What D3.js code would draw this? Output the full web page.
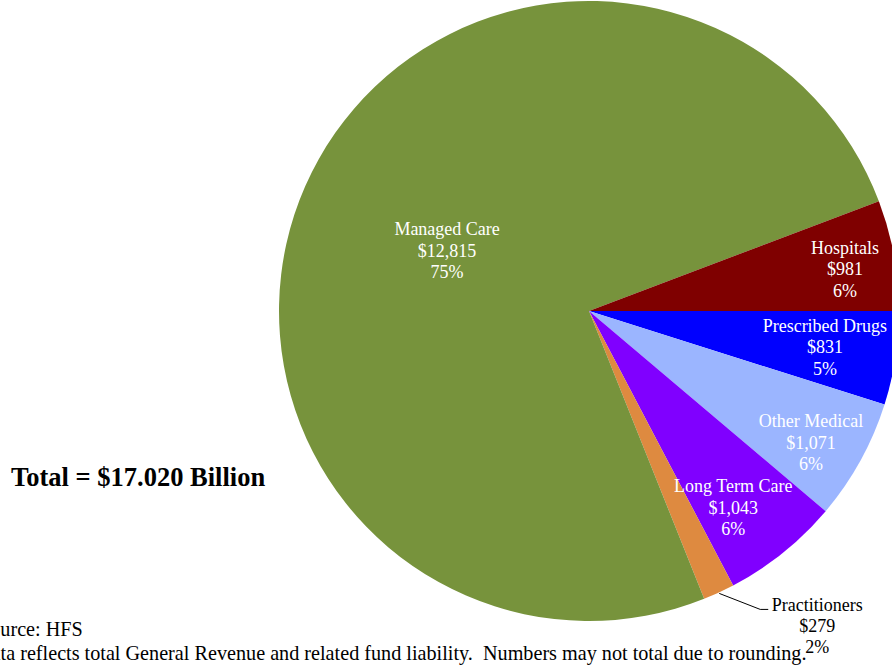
<!DOCTYPE html>
<html>
<head>
<meta charset="utf-8">
<script src="https://cdn.jsdelivr.net/npm/d3@7"></script>
<style>
  html, body { margin: 0; padding: 0; background: #fff; }
  svg { display: block; font-family: "Liberation Serif", "Times New Roman", serif; }
</style>
</head>
<body>
<svg id="chart" width="892" height="668"></svg>
<script>
// FY spending by category ($ millions), clockwise from 3 o'clock
const categories = ["Prescribed Drugs", "Other Medical", "Long Term Care", "Practitioners", "Managed Care", "Hospitals"];
const amounts    = [831, 1071, 1043, 279, 12815, 981];
const percents   = ["5%", "6%", "6%", "2%", "75%", "6%"];
const totalLabel = "Total = $17.020 Billion";
const sourceNote = "Source: HFS";
const footNote   = "Data reflects total General Revenue and related fund liability.  Numbers may not total due to rounding.";

const colors = d3.scaleOrdinal()
  .domain(categories)
  .range(["#0000FF", "#9BB5FF", "#8000FF", "#DE8A40", "#77933C", "#7F0000"]);

// inside label placement: [fraction of radius, angular nudge in degrees]
const labelPlace = {
  "Prescribed Drugs": [0.77, 0],
  "Other Medical":    [0.833, 1.8],
  "Long Term Care":   [0.787, 2.5],
  "Managed Care":     [0.497, -0.8],
  "Hospitals":        [0.837, 1.1]
};

const svg = d3.select("#chart");
const cx = 589, cy = 311, R = 310;

const data = categories.map((c, i) => ({ name: c, value: amounts[i], pct: percents[i] }));
const pie = d3.pie().value(d => d.value).sort(null)
  .startAngle(Math.PI / 2).endAngle(Math.PI / 2 + 2 * Math.PI);
const arcs = pie(data);
const arc = d3.arc().innerRadius(0).outerRadius(R);

const g = svg.append("g").attr("transform", `translate(${cx},${cy})`);

g.selectAll("path.slice").data(arcs).enter().append("path")
  .attr("class", "slice")
  .attr("d", arc)
  .attr("fill", d => colors(d.data.name));

const fmt = d3.format(",");
const fs = 18, lh = 21.5;

function labelLines(d) {
  return [d.data.name, "$" + fmt(d.data.value), d.data.pct];
}

// inside labels, three centred lines around the slice's label point
arcs.filter(d => labelPlace[d.data.name]).forEach(d => {
  const [frac, nudge] = labelPlace[d.data.name];
  const a = (d.startAngle + d.endAngle) / 2 + nudge * Math.PI / 180;
  const x = Math.sin(a) * frac * R, y = -Math.cos(a) * frac * R;
  const t = g.append("text")
    .attr("text-anchor", "middle")
    .attr("fill", "#fff")
    .attr("font-size", fs)
    .attr("x", x).attr("y", y - lh + fs * 0.33);
  labelLines(d).forEach((s, j) => {
    t.append("tspan").attr("x", x).attr("dy", j === 0 ? 0 : lh).text(s);
  });
});

// outside label with a leader line for the thin slice
arcs.filter(d => d.data.name === "Practitioners").forEach(d => {
  const mid = (d.startAngle + d.endAngle) / 2;
  const p0 = [Math.sin(mid) * (R + 1), -Math.cos(mid) * (R + 1)];
  const p1 = [p0[0] + 41, p0[1] + 16];
  const p2 = [p1[0] + 8, p1[1]];
  g.append("polyline")
    .attr("points", [p0, p1, p2].map(p => p.join(",")).join(" "))
    .attr("fill", "none").attr("stroke", "#000").attr("stroke-width", 1);
  const x = p2[0] + 49;
  const t = g.append("text")
    .attr("text-anchor", "middle")
    .attr("fill", "#000")
    .attr("font-size", fs)
    .attr("x", x).attr("y", p2[1] + 2);
  labelLines(d).forEach((s, j) => {
    t.append("tspan").attr("x", x).attr("dy", j === 0 ? 0 : 21).text(s);
  });
});

svg.append("text")
  .attr("x", 11).attr("y", 486)
  .attr("font-size", 26.5).attr("font-weight", "bold")
  .text(totalLabel);

svg.append("text")
  .attr("x", -21).attr("y", 636)
  .attr("font-size", 20.2)
  .text(sourceNote);

svg.append("text")
  .attr("x", -23).attr("y", 660)
  .attr("font-size", 20.2)
  .style("white-space", "pre")
  .text(footNote);
</script>
</body>
</html>
